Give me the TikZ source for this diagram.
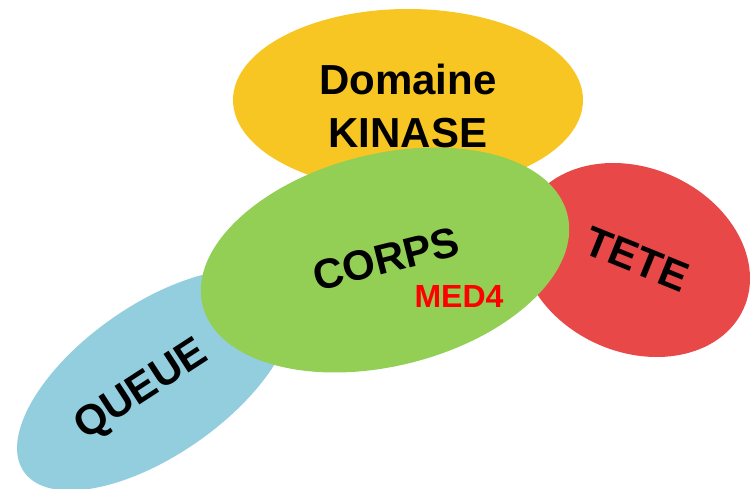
\documentclass[tikz,border=0pt]{standalone}
\usepackage{fontspec}
\setmainfont{Liberation Sans}
\usetikzlibrary{shapes.geometric}
\definecolor{kyellow}{HTML}{F8C622}
\definecolor{kgreen}{HTML}{93CF55}
\definecolor{kred}{HTML}{E84848}
\definecolor{kblue}{HTML}{93CEDF}
\definecolor{kmed}{HTML}{FF0000}
\tikzset{
  blob/.style={ellipse, inner sep=0pt, draw=none},
  lbl/.style={inner sep=0pt, font=\bfseries\fontsize{42}{48}\selectfont, text=black},
  sublbl/.style={inner sep=0pt, font=\bfseries\fontsize{32}{36}\selectfont, text=kmed}
}
\begin{document}
\begin{tikzpicture}[x=1pt,y=-1pt]
\useasboundingbox (0,0) rectangle (751,489);
% shapes, back to front
\node[blob, fill=kblue, minimum width=320pt, minimum height=150pt, rotate=35] (queue) at (155,380) {};
\node[blob, fill=kyellow, minimum width=350pt, minimum height=182pt] (kinase) at (408,100) {};
\node[blob, fill=kred, minimum width=238pt, minimum height=184pt, rotate=-24] (tete) at (635,260) {};
\node[blob, fill=kgreen, minimum width=376pt, minimum height=212pt, rotate=14] (corps) at (385,260) {};
% labels
\node[lbl, anchor=base] (t1) at (408,95) {Domaine};
\node[lbl, anchor=base] (t2) at (408,147) {KINASE};
\node[lbl, rotate=14] (t3) at (386,259) {CORPS};
\node[sublbl, anchor=base] (t4) at (459,307) {MED4};
\node[lbl, rotate=-22] (t5) at (637,259) {TETE};
\node[lbl, rotate=33] (t6) at (142,391) {QUEUE};
\end{tikzpicture}
\end{document}
